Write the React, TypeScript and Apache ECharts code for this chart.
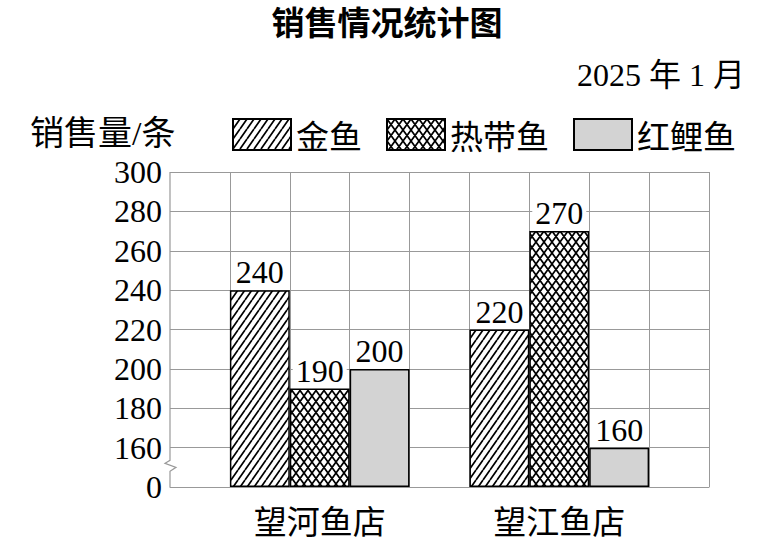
import { useEffect, useRef } from 'react'
import * as echarts from 'echarts'

// 销售数据（2025年1月）
const shops = ['望河鱼店', '望江鱼店']
const seriesNames = ['金鱼', '热带鱼', '红鲤鱼']
const goldfish = [240, 220]
const tropical = [190, 270]
const koi = [200, 160]
// y 轴刻度（0 与 160 之间有折断）
const yTicks = [0, 160, 180, 200, 220, 240, 260, 280, 300]

const BREAK_OFFSET = yTicks[1] - (yTicks[2] - yTicks[1]) // 140
const SLOT_COUNT = 9
const SERIF = '"Liberation Serif", "Noto Sans CJK SC", serif'
const CJK = '"Noto Sans CJK SC", sans-serif'
const GRID_COLOR = '#999'

function makeHatch(w: number, h: number, cross: boolean, lw: number) {
  const c = document.createElement('canvas')
  c.width = w
  c.height = h
  const ctx = c.getContext('2d')!
  ctx.fillStyle = '#fff'
  ctx.fillRect(0, 0, w, h)
  ctx.strokeStyle = '#000'
  ctx.lineWidth = lw
  ctx.beginPath()
  for (const dx of [-w, 0, w]) {
    ctx.moveTo(dx, h)
    ctx.lineTo(dx + w, 0)
    if (cross) {
      ctx.moveTo(dx, 0)
      ctx.lineTo(dx + w, h)
    }
  }
  ctx.stroke()
  return c
}

function slotData(values: number[], k: number) {
  const arr: (number | string)[] = Array(SLOT_COUNT).fill('-')
  values.forEach((v, i) => {
    arr[1 + 4 * i + k] = v - BREAK_OFFSET
  })
  return arr
}

export default function App() {
  const ref = useRef<HTMLDivElement | null>(null)

  useEffect(() => {
    if (!ref.current) return
    const chart = echarts.init(ref.current, null, { renderer: 'svg' })

    const fills: any[] = [
      { image: makeHatch(7, 10, false, 1.7), repeat: 'repeat' },
      { image: makeHatch(8, 11, true, 1.7), repeat: 'repeat' },
      '#d3d3d3',
    ]
    const values = [goldfish, tropical, koi]
    const slots = Array.from({ length: SLOT_COUNT }, (_, i) => 's' + i)

    chart.setOption({
      animation: false,
      grid: { left: 170, right: 56, top: 172, bottom: 55 },
      legend: {
        left: 232,
        top: 118,
        padding: 0,
        icon: 'rect',
        itemWidth: 58,
        itemHeight: 31,
        itemGap: 24,
        data: seriesNames,
        textStyle: { fontFamily: CJK, fontSize: 33, color: '#000' },
      },
      xAxis: {
        type: 'category',
        data: slots,
        axisTick: { show: false },
        axisLine: { lineStyle: { color: GRID_COLOR, width: 1 } },
        axisLabel: {
          interval: 0,
          margin: 16,
          color: '#000',
          fontFamily: CJK,
          fontSize: 33,
          formatter: (_: string, idx: number) =>
            idx % 4 === 2 ? shops[(idx - 2) / 4] ?? '' : '',
        },
        splitLine: {
          show: true,
          showMinLine: false,
          lineStyle: { color: GRID_COLOR, width: 1 },
        },
      },
      yAxis: {
        type: 'value',
        min: 0,
        max: (yTicks.length - 1) * 20,
        interval: 20,
        axisLine: { show: false },
        axisTick: { show: false },
        axisLabel: {
          margin: 8,
          color: '#000',
          fontFamily: SERIF,
          fontSize: 32,
          formatter: (_: number, idx: number) => String(yTicks[idx]),
        },
        splitLine: { lineStyle: { color: GRID_COLOR, width: 1 } },
      },
      series: seriesNames.map((name, k) => ({
        name,
        type: 'bar',
        data: slotData(values[k], k),
        barWidth: '100%',
        barGap: '-100%',
        itemStyle: { color: fills[k], borderColor: '#000', borderWidth: 1.5 },
        label: {
          show: true,
          position: 'top',
          distance: 2,
          color: '#000',
          fontFamily: SERIF,
          fontSize: 32,
          backgroundColor: '#fff',
          padding: [3, 3, 0, 3],
          formatter: (p: any) => String(Number(p.value) + BREAK_OFFSET),
        },
      })),
    })

    // 左侧轴线与折断符号
    const c0 = chart.convertToPixel({ xAxisIndex: 0 }, 0) as number
    const c1 = chart.convertToPixel({ xAxisIndex: 0 }, 1) as number
    const x0 = c0 - (c1 - c0) / 2
    const yBottom = chart.convertToPixel({ yAxisIndex: 0 }, 0) as number
    const yFirst = chart.convertToPixel({ yAxisIndex: 0 }, 20) as number
    const yTop = chart.convertToPixel({ yAxisIndex: 0 }, (yTicks.length - 1) * 20) as number
    const mid = (yBottom + yFirst) / 2

    chart.setOption({
      graphic: [
        {
          type: 'polyline',
          shape: {
            points: [
              [x0, yTop],
              [x0, mid - 7],
              [x0 - 5, mid - 4],
              [x0 + 6, mid],
              [x0, mid + 4],
              [x0, yBottom],
            ],
          },
          style: { stroke: GRID_COLOR, lineWidth: 1.2, fill: 'none' },
          z: 10,
        },
        {
          type: 'text',
          x: 387,
          y: 4,
          style: {
            text: '销售情况统计图',
            fill: '#000',
            font: `bold 33px ${CJK}`,
            textAlign: 'center',
            textVerticalAlign: 'top',
          },
        },
        {
          type: 'text',
          x: 745,
          y: 75,
          style: {
            text: '2025 年 1 月',
            fill: '#000',
            font: `32px ${SERIF}`,
            textAlign: 'right',
            textVerticalAlign: 'middle',
          },
        },
        {
          type: 'text',
          x: 30,
          y: 133,
          style: {
            text: '销售量/条',
            fill: '#000',
            font: `34px ${SERIF}`,
            textAlign: 'left',
            textVerticalAlign: 'middle',
          },
        },
      ],
    })

    return () => chart.dispose()
  }, [])

  return (
    <div
      ref={ref}
      style={{ position: 'fixed', left: 0, top: 0, width: 765, height: 542, background: '#fff' }}
    />
  )
}
